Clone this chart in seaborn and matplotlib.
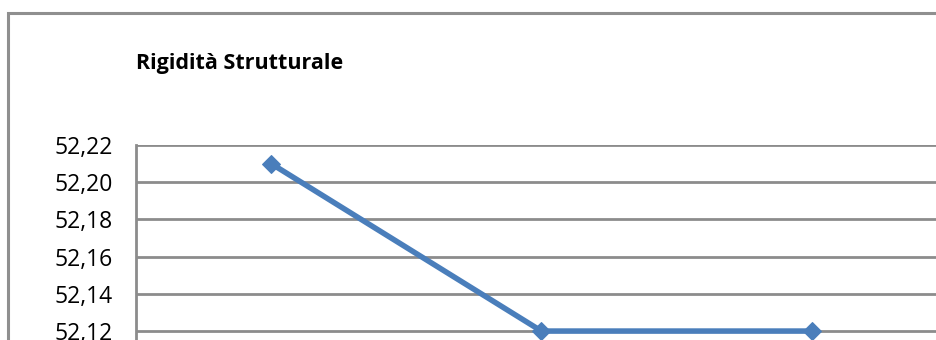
import matplotlib
matplotlib.use("Agg")
import matplotlib.pyplot as plt
import seaborn as sns
import pandas as pd
from matplotlib.patches import Rectangle

# dati
categorie = [1, 2, 3]
rigidita = [52.21, 52.12, 52.12]
tick_valori = [52.12, 52.14, 52.16, 52.18, 52.20, 52.22]
tick_etichette = ["52,12", "52,14", "52,16", "52,18", "52,20", "52,22"]
titolo = "Rigidità Strutturale"

df = pd.DataFrame({"pos": range(len(categorie)), "valore": rigidita})

sns.set_style("white")
plt.rcParams["font.family"] = ["Open Sans", "DejaVu Sans"]

fig = plt.figure(figsize=(9.36, 3.4), dpi=100)
W, H = 936, 340

# cornice esterna del grafico (tagliata a destra e in basso)
fig.patches.append(Rectangle((8 / W, -0.1), 1.1, (H - 13) / H + 0.1,
                             transform=fig.transFigure, fill=False,
                             edgecolor="#8f8f8f", linewidth=2.2))

ax = fig.add_axes([136 / W, 0, 1 - 136 / W, (H - 145) / H])
sns.lineplot(data=df, x="pos", y="valore", ax=ax, color="#4a7ebb",
             linewidth=4, marker="D", markersize=9,
             markeredgecolor="#4a7ebb")

ax.set_xlim(-0.5, 2.46)
ax.set_ylim(52.1152, 52.22)
ax.set_yticks(tick_valori)
ax.set_yticklabels(tick_etichette, fontsize=16.5, color="#000000")
ax.set_xticks([])
ax.set_xlabel("")
ax.set_ylabel("")
ax.yaxis.grid(True, color="#8c8c8c", linewidth=2)
ax.set_axisbelow(True)
ax.tick_params(axis="y", length=7, width=2, color="#8c8c8c", pad=10)
for s in ["top", "right", "bottom"]:
    ax.spines[s].set_visible(False)
ax.spines["left"].set_color("#8c8c8c")
ax.spines["left"].set_linewidth(2)

fig.text(136 / W, 1 - 63 / H, titolo, fontsize=15.5, fontweight="bold",
         va="center", ha="left", color="black")

fig.savefig("out.png", dpi=100)
